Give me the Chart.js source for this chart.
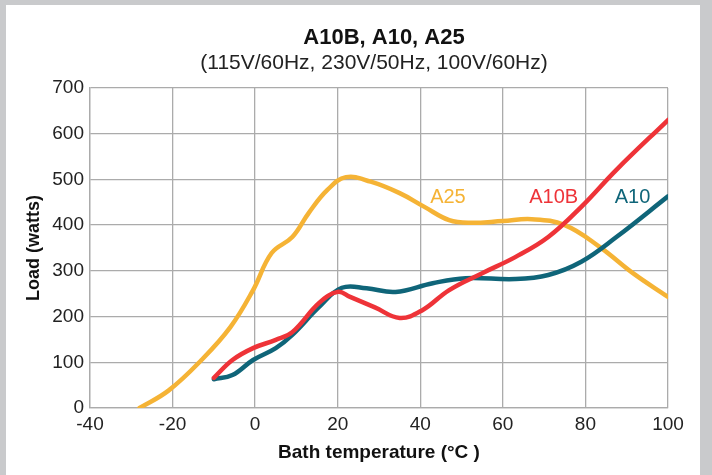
<!DOCTYPE html>
<html>
<head>
<meta charset="utf-8">
<script src="https://cdn.jsdelivr.net/npm/chart.js@4"></script>
<style>
  html,body{ margin:0; padding:0; background:#c9cacc; }
  .panel{ position:absolute; left:6px; top:5px; width:694px; height:470px; background:#fff; }
  canvas{ display:block; }
</style>
</head>
<body>
<div class="panel"><canvas id="chart" width="694" height="470"></canvas></div>
<script>
(function(){

  // A25 curve
  const tempA25 = [-28, -21, -13, -6, -0.5, 4, 9, 13, 17.5, 22, 28, 35, 41, 47, 52, 60, 67, 75, 83.5, 91.5, 100];
  const loadA25 = [0, 38, 105, 177, 258, 339, 374, 427, 477, 505, 495, 470, 440, 411, 405, 409, 413, 400, 352, 295, 243];

  // A10B curve
  const tempA10B = [-10, -5.5, -0.5, 5, 9, 15.5, 20, 23, 29, 35, 40.5, 47, 55, 63, 71, 79, 87.5, 100];
  const loadA10B = [66, 105, 131, 149, 166, 230, 254, 243, 220, 197, 214, 258, 295, 330, 374, 440, 521, 630];

  // A10 curve
  const tempA10 = [-10, -5.5, -0.5, 5, 9, 15.5, 21, 27, 34, 43, 51, 63, 71, 79, 87.5, 100];
  const loadA10 = [63, 72, 105, 131, 160, 221, 263, 262, 254, 273, 284, 282, 291, 320, 374, 463];

  const seriesNames = ['A10B', 'A10', 'A25'];
  const seriesColors = ['#ee3338', '#0f6579', '#f5b335'];
  // where each in-chart name sits, in data units
  const labelAnchors = [[72.3, 461], [91.4, 461], [46.7, 461]];

  const xTicks = [-40, -20, 0, 20, 40, 60, 80, 100];
  const yTicks = [0, 100, 200, 300, 400, 500, 600, 700];

  const titleText = 'A10B, A10, A25';
  const subtitleText = '(115V/60Hz, 230V/50Hz, 100V/60Hz)';

  const zip = (xs, ys) => xs.map((x, i) => ({ x:x, y:ys[i] }));
  const allPoints = [zip(tempA10B, loadA10B), zip(tempA10, loadA10), zip(tempA25, loadA25)];

  const gridColor = '#ababab';
  const font = '"Liberation Sans", Arial, sans-serif';

  const seriesLabels = {
    id:'seriesLabels',
    afterDatasetsDraw(chart){
      const ctx = chart.ctx;
      const xs = chart.scales.x, ys = chart.scales.y;
      const area = chart.chartArea;
      const mid = (area.left + area.right) / 2;
      ctx.save();
      ctx.textAlign = 'center';
      ctx.textBaseline = 'middle';
      ctx.font = '20px ' + font;
      seriesNames.forEach((name, i) => {
        ctx.fillStyle = seriesColors[i];
        ctx.fillText(name, xs.getPixelForValue(labelAnchors[i][0]), ys.getPixelForValue(labelAnchors[i][1]));
      });
      // title block above the plot
      ctx.fillStyle = '#111';
      ctx.font = 'bold 22px ' + font;
      ctx.fillText(titleText, mid + 5, area.top - 50);
      ctx.fillStyle = '#222';
      ctx.font = '21px ' + font;
      ctx.fillText(subtitleText, mid - 5, area.top - 25);
      ctx.restore();
    }
  };

  new Chart(document.getElementById('chart'), {
    type:'line',
    data:{
      datasets: seriesNames.map((name, i) => ({
        label:name,
        data:allPoints[i],
        borderColor:seriesColors[i],
        backgroundColor:seriesColors[i],
        borderWidth:4.5,
        pointRadius:0,
        tension:0.4,
        fill:false,
        borderCapStyle:'round'
      }))
    },
    options:{
      responsive:false, animation:false,
      layout:{ padding:{ left:0, right:32, top:83, bottom:0 } },
      plugins:{
        legend:{ display:false },
        tooltip:{ enabled:false }
      },
      scales:{
        x:{
          type:'linear', min:-40, max:100,
          afterBuildTicks:s => { s.ticks = xTicks.map(v => ({ value:v })); },
          afterFit:s => { s.height = 67; },
          grid:{ color:gridColor, lineWidth:1.3, drawTicks:false },
          border:{ color:gridColor, width:1.3 },
          ticks:{ color:'#222', padding:5, maxRotation:0, font:{ family:font, size:19 } },
          title:{ display:true, text:'Bath temperature (°C )', color:'#111',
            font:{ family:font, size:19, weight:'bold' }, padding:{ top:0, bottom:11 } }
        },
        y:{
          min:0, max:700,
          afterBuildTicks:s => { s.ticks = yTicks.map(v => ({ value:v })); },
          afterFit:s => { s.width = 84; },
          grid:{ color:gridColor, lineWidth:1.3, drawTicks:false },
          border:{ color:gridColor, width:1.3 },
          ticks:{ color:'#222', padding:6, font:{ family:font, size:19 } },
          title:{ display:true, text:'Load (watts)', color:'#111',
            font:{ family:font, size:18, weight:'bold' }, padding:{ top:17, bottom:0 } }
        }
      }
    },
    plugins:[seriesLabels]
  });

})();
</script>
</body>
</html>
